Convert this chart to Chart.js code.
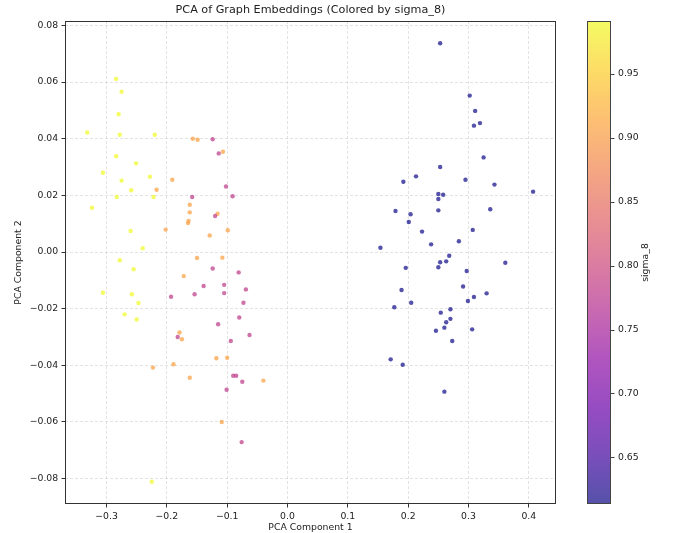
<!DOCTYPE html>
<html>
<head>
<title>PCA of Graph Embeddings</title>
<script src="https://cdn.jsdelivr.net/npm/chart.js@4.4.2/dist/chart.umd.min.js"></script>
<style>
html, body {
    margin: 0;
    padding: 0;
    background: #fff;
}
</style>
</head>
<body>
<canvas id="chart" width="673" height="533"></canvas>
<script>
// sigma_8 value of each group (colour comes from plasma colormap)
const sigmaHigh = 0.9915;
const sigmaMidHigh = 0.905;
const sigmaMid = 0.78;
const sigmaLow = 0.6135;

// yellow group
const highX = [-0.284, -0.275, -0.280, -0.332, -0.278, -0.220, -0.284, -0.251, -0.306, -0.228, -0.275, -0.259, -0.283,
    -0.222, -0.324, -0.260, -0.240, -0.278, -0.255, -0.306, -0.258, -0.247, -0.270, -0.250, -0.225];
const highY = [0.0611, 0.0566, 0.0486, 0.0422, 0.0414, 0.0414, 0.0338, 0.0313, 0.0280, 0.0266, 0.0252, 0.0218, 0.0194,
    0.0194, 0.0156, 0.0074, 0.0013, -0.0029, -0.0061, -0.0144, -0.0149, -0.0180, -0.0220, -0.0238, -0.0811];

// orange group
const midHighX = [-0.157, -0.149, -0.107, -0.191, -0.217, -0.162, -0.162, -0.116, -0.164, -0.165, -0.202, -0.099, -0.129,
    -0.150, -0.108, -0.172, -0.179, -0.175, -0.118, -0.100, -0.223, -0.189, -0.162, -0.040, -0.109];
const midHighY = [0.0400, 0.0396, 0.0354, 0.0255, 0.0220, 0.0167, 0.0140, 0.0135, 0.0110, 0.0102, 0.0079, 0.0077, 0.0058,
    -0.0021, -0.0020, -0.0085, -0.0284, -0.0308, -0.0375, -0.0373, -0.0408, -0.0396, -0.0444, -0.0454, -0.0600];

// magenta group
const midX = [-0.124, -0.114, -0.102, -0.158, -0.091, -0.120, -0.124, -0.081, -0.139, -0.105, -0.154, -0.105, -0.193,
    -0.069, -0.073, -0.080, -0.115, -0.063, -0.182, -0.094, -0.090, -0.085, -0.075, -0.101, -0.076];
const midY = [0.0398, 0.0348, 0.0231, 0.0194, 0.0197, 0.0127, -0.0058, -0.0072, -0.0120, -0.0116, -0.0149, -0.0145, -0.0158,
    -0.0132, -0.0179, -0.0231, -0.0255, -0.0293, -0.0300, -0.0314, -0.0437, -0.0437, -0.0458, -0.0486, -0.0671];

// purple group
const lowX = [0.253, 0.302, 0.311, 0.309, 0.319, 0.325, 0.253, 0.213, 0.192, 0.295, 0.343, 0.407, 0.250, 0.258, 0.250,
    0.179, 0.250, 0.336, 0.204, 0.201, 0.307, 0.223, 0.284, 0.238, 0.154, 0.268, 0.253, 0.263, 0.361, 0.196, 0.250,
    0.297, 0.291, 0.189, 0.330, 0.309, 0.205, 0.299, 0.177, 0.254, 0.270, 0.270, 0.263, 0.260, 0.246, 0.306, 0.273,
    0.171, 0.191, 0.260];
const lowY = [0.0737, 0.0552, 0.0498, 0.0446, 0.0455, 0.0334, 0.0300, 0.0267, 0.0248, 0.0255, 0.0238, 0.0213, 0.0205,
    0.0202, 0.0187, 0.0145, 0.0147, 0.0151, 0.0133, 0.0106, 0.0078, 0.0072, 0.0038, 0.0027, 0.0015, -0.0013, -0.0036,
    -0.0033, -0.0038, -0.0056, -0.0054, -0.0067, -0.0122, -0.0134, -0.0146, -0.0159, -0.0179, -0.0173, -0.0195,
    -0.0214, -0.0202, -0.0236, -0.0248, -0.0267, -0.0278, -0.0273, -0.0314, -0.0379, -0.0398, -0.0493];

const xTicks = [-0.3, -0.2, -0.1, 0.0, 0.1, 0.2, 0.3, 0.4];
const yTicks = [-0.08, -0.06, -0.04, -0.02, 0.0, 0.02, 0.04, 0.06, 0.08];
const cbTicks = [0.65, 0.70, 0.75, 0.80, 0.85, 0.90, 0.95];

// plasma colormap anchors
const plasma = ["#0d0887", "#41049d", "#6a00a8", "#8f0da4", "#b12a90", "#cc4778",
    "#e16462", "#f2844b", "#fca636", "#fcce25", "#f0f921"];
const ALPHA = 0.7;

const hexRgb = (h) => [1, 3, 5].map(i => parseInt(h.slice(i, i + 2), 16));

const plasmaColor = (t, alpha) => {
    t = Math.min(1, Math.max(0, t));
    const p = t * (plasma.length - 1);
    const i = Math.min(plasma.length - 2, Math.floor(p));
    const f = p - i;
    const a = hexRgb(plasma[i]), b = hexRgb(plasma[i + 1]);
    const c = a.map((v, k) => Math.round(v + (b[k] - v) * f));
    return `rgba(${c[0]},${c[1]},${c[2]},${alpha})`;
};

const allSigma = [sigmaHigh, sigmaMidHigh, sigmaMid, sigmaLow];
const cbMin = Math.min(...allSigma);
const cbMax = Math.max(...allSigma);
const norm = (s) => (s - cbMin) / (cbMax - cbMin);

const toPoints = (xs, ys) => xs.map((x, i) => ({x: x, y: ys[i]}));

const makeSet = (xs, ys, sigma) => ({
    data: toPoints(xs, ys),
    backgroundColor: plasmaColor(norm(sigma), ALPHA),
    borderWidth: 0,
    pointRadius: 2.2,
    pointHoverRadius: 2.2
});

const fmt = (v, d) => {
    let s = Math.abs(v) < 1e-9 ? (0).toFixed(d) : v.toFixed(d);
    return s.replace("-", "\u2212");
};

const FONT = "'DejaVu Sans', sans-serif";
Chart.defaults.font.family = FONT;
Chart.defaults.font.size = 9.3;
Chart.defaults.color = "#222";

const gridColor = "rgba(190,190,190,0.55)";

// fixed axis boxes, no extra label padding
const fixBox = (size) => (s) => {
    if (s.isHorizontal()) s.height = size; else s.width = size;
    s.paddingTop = 0;
    s.paddingBottom = 0;
    s.paddingLeft = 0;
    s.paddingRight = 0;
};

// frame, title and colorbar
const decor = {
    id: "decor",
    afterDraw(chart) {
        const {ctx, chartArea: a, scales} = chart;
        ctx.save();

        ctx.strokeStyle = "#333";
        ctx.lineWidth = 1;
        ctx.strokeRect(a.left + 0.5, a.top + 0.5, a.right - a.left - 1, a.bottom - a.top - 1);

        ctx.fillStyle = "#222";
        ctx.font = "11.2px " + FONT;
        ctx.textAlign = "center";
        ctx.textBaseline = "middle";
        ctx.fillText("PCA of Graph Embeddings (Colored by sigma_8)", (a.left + a.right) / 2, 10);

        const cb = scales.cb;
        const top = cb.getPixelForValue(cbMax);
        const bot = cb.getPixelForValue(cbMin);
        const x0 = a.right + 31;
        const w = 24;
        const grad = ctx.createLinearGradient(0, top, 0, bot);
        plasma.forEach((c, i) => {
            grad.addColorStop(1 - i / (plasma.length - 1), plasmaColor(i / (plasma.length - 1), ALPHA));
        });
        ctx.fillStyle = grad;
        ctx.fillRect(x0, top, w, bot - top);
        ctx.strokeStyle = "#444";
        ctx.strokeRect(x0 + 0.5, top + 0.5, w - 1, bot - top - 1);

        ctx.beginPath();
        cbTicks.forEach(v => {
            const y = Math.round(cb.getPixelForValue(v)) + 0.5;
            ctx.moveTo(x0 + w, y);
            ctx.lineTo(x0 + w + 3.5, y);
        });
        ctx.stroke();

        ctx.fillStyle = "#222";
        ctx.font = "9.3px " + FONT;
        ctx.translate(a.right + 90, (top + bot) / 2);
        ctx.rotate(-Math.PI / 2);
        ctx.fillText("sigma_8", 0, 0);
        ctx.restore();
    }
};

const ctx = document.getElementById("chart").getContext("2d");
const chart = new Chart(ctx, {
    type: "scatter",
    data: {
        datasets: [
            makeSet(lowX, lowY, sigmaLow),
            makeSet(midX, midY, sigmaMid),
            makeSet(midHighX, midHighY, sigmaMidHigh),
            makeSet(highX, highY, sigmaHigh)
        ]
    },
    options: {
        responsive: false,
        animation: false,
        layout: {padding: {top: 21, left: 0, right: 0, bottom: 0}},
        plugins: {
            legend: {display: false},
            tooltip: {enabled: false},
            title: {display: false}
        },
        scales: {
            x: {
                type: "linear",
                min: -0.3688,
                max: 0.445,
                afterBuildTicks: (s) => { s.ticks = xTicks.map(v => ({value: v})); },
                afterFit: fixBox(29),
                ticks: {
                    padding: 3.3,
                    maxRotation: 0,
                    callback: (v) => fmt(v, 1)
                },
                grid: {
                    color: gridColor,
                    lineWidth: 0.8,
                    tickLength: 3.5,
                    tickColor: "#333",
                    tickWidth: 1,
                    tickBorderDash: []
                },
                border: {display: false, dash: [3, 2]},
                title: {display: true, text: "PCA Component 1", padding: {top: 0, bottom: 0}}
            },
            y: {
                type: "linear",
                min: -0.08895,
                max: 0.08154,
                afterBuildTicks: (s) => { s.ticks = yTicks.map(v => ({value: v})); },
                afterFit: fixBox(65),
                ticks: {
                    padding: 3.3,
                    callback: (v) => fmt(v, 2)
                },
                grid: {
                    color: gridColor,
                    lineWidth: 0.8,
                    tickLength: 3.5,
                    tickColor: "#333",
                    tickWidth: 1,
                    tickBorderDash: []
                },
                border: {display: false, dash: [3, 2]},
                title: {display: true, text: "PCA Component 2", padding: {top: 13.5, bottom: 0}}
            },
            cb: {
                type: "linear",
                position: "right",
                display: true,
                min: cbMin,
                max: cbMax,
                afterBuildTicks: (s) => { s.ticks = cbTicks.map(v => ({value: v})); },
                afterFit: fixBox(117),
                ticks: {
                    padding: 62,
                    callback: (v) => fmt(v, 2)
                },
                grid: {display: false, drawTicks: false, drawOnChartArea: false},
                border: {display: false}
            }
        }
    },
    plugins: [decor]
});
</script>
</body>
</html>
